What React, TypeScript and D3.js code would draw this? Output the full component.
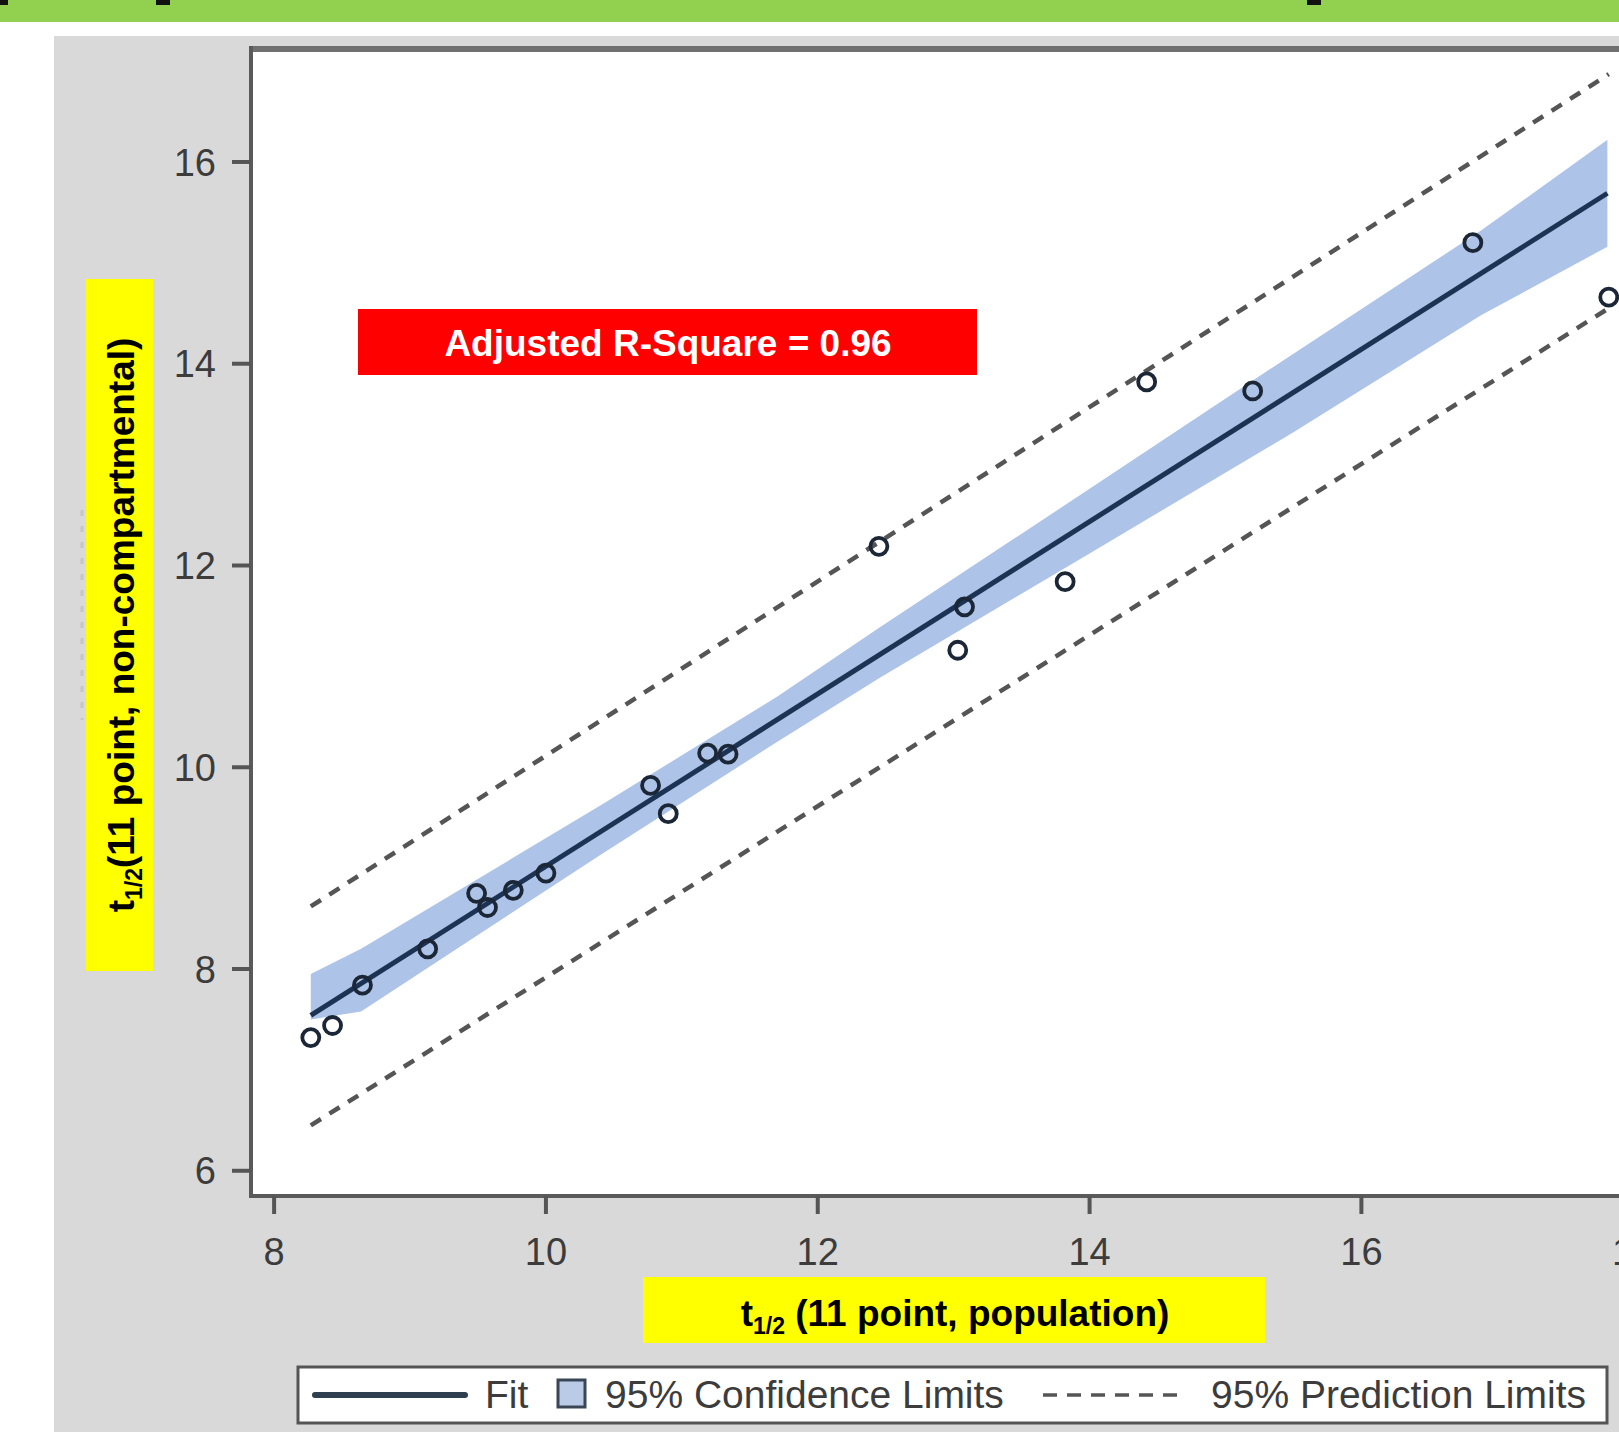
import * as d3 from "d3";

const obsX = [8.27, 8.43, 8.65, 9.13, 9.49, 9.57, 9.76, 10.0, 10.77, 10.9, 11.19, 11.34, 12.45, 13.03, 13.08, 13.82, 14.42, 15.2, 16.82, 17.82];
const obsY = [7.32, 7.44, 7.84, 8.2, 8.75, 8.61, 8.78, 8.95, 9.82, 9.54, 10.14, 10.13, 12.19, 11.16, 11.59, 11.84, 13.82, 13.73, 15.2, 14.66];

// fitted line
const fitX = [8.27, 17.81];
const fitY = [7.54, 15.69];

// 95% confidence band
const bandX = [8.27, 8.64, 10.4, 11.7, 12.46, 14.0, 15.5, 16.88, 17.81];
const bandUpper = [7.95, 8.2, 9.62, 10.7, 11.39, 12.76, 14.1, 15.32, 16.22];
const bandLower = [7.5, 7.58, 9.13, 10.25, 10.89, 12.12, 13.32, 14.48, 15.16];

// 95% prediction limits
const predX = [8.27, 17.82];
const predUpper = [8.62, 16.87];
const predLower = [6.45, 14.55];

const xTicks = [8, 10, 12, 14, 16, 18];
const yTicks = [6, 8, 10, 12, 14, 16];

const font = "'Liberation Sans', Arial, sans-serif";

export default function App() {
  const width = 1619;
  const height = 1432;
  const plotLeft = 251;
  const plotTop = 51;
  const plotBottom = 1196;

  const x = d3.scaleLinear().domain([7.83, 18.3]).range([plotLeft, 1674]);
  const y = d3.scaleLinear().domain([5.75, 17.1]).range([plotBottom, plotTop]);

  const band = d3
    .area<number>()
    .x((d) => x(bandX[d]))
    .y0((d) => y(bandLower[d]))
    .y1((d) => y(bandUpper[d]));
  const line = d3
    .line<number[]>()
    .x((d) => x(d[0]))
    .y((d) => y(d[1]));

  const fitPts = fitX.map((v, i) => [v, fitY[i]]);
  const upPts = predX.map((v, i) => [v, predUpper[i]]);
  const loPts = predX.map((v, i) => [v, predLower[i]]);

  return (
    <svg
      width={width}
      height={height}
      style={{ position: "absolute", left: 0, top: 0, background: "#fff" }}
    >
      <defs>
        <clipPath id="plotclip">
          <rect x={plotLeft + 2} y={plotTop + 2} width={width} height={plotBottom - plotTop - 4} />
        </clipPath>
      </defs>

      {/* green banner and cut-off glyphs */}
      <rect x={0} y={0} width={width} height={22} fill="#92d050" />
      <rect x={0} y={0} width={8} height={5} fill="#111" />
      <rect x={156} y={0} width={14} height={5} fill="#111" />
      <rect x={1307} y={0} width={14} height={5} fill="#111" />

      {/* gray panel */}
      <rect x={54} y={36} width={width - 54} height={height - 36} fill="#d9d9d9" />
      <rect x={plotLeft} y={plotTop} width={width} height={plotBottom - plotTop} fill="#fff" />
      <line x1={82} x2={82} y1={510} y2={720} stroke="#b8b8b8" strokeWidth={3} strokeDasharray="6 10" opacity={0.6} />

      <g clipPath="url(#plotclip)">
        <path d={band(d3.range(bandX.length)) || ""} fill="#adc3e8" />
        <path d={line(upPts) || ""} fill="none" stroke="#555" strokeWidth={4.5} strokeDasharray="12 10" />
        <path d={line(loPts) || ""} fill="none" stroke="#555" strokeWidth={4.5} strokeDasharray="12 10" />
        <path d={line(fitPts) || ""} fill="none" stroke="#1c3353" strokeWidth={5} />
        {obsX.map((v, i) => (
          <circle key={i} cx={x(v)} cy={y(obsY[i])} r={8.5} fill="none" stroke="#1b2636" strokeWidth={3.8} />
        ))}
      </g>

      {/* frame */}
      <rect x={plotLeft - 2} y={plotTop - 5} width={width} height={6} fill="#707070" />
      <rect x={plotLeft - 2} y={plotTop - 5} width={4} height={plotBottom - plotTop + 7} fill="#5a5a5a" />
      <rect x={plotLeft - 2} y={plotBottom - 2} width={width} height={4} fill="#5a5a5a" />

      {/* y axis */}
      {yTicks.map((t) => (
        <g key={t}>
          <line x1={plotLeft - 19} x2={plotLeft} y1={y(t)} y2={y(t)} stroke="#555" strokeWidth={4} />
          <text
            x={plotLeft - 35}
            y={y(t)}
            dy="0.36em"
            textAnchor="end"
            fontFamily={font}
            fontSize={38}
            fill="#3c3c3c"
          >
            {t}
          </text>
        </g>
      ))}

      {/* x axis */}
      {xTicks.map((t) => (
        <g key={t}>
          <line x1={x(t)} x2={x(t)} y1={plotBottom} y2={plotBottom + 18} stroke="#555" strokeWidth={4} />
          <text
            x={x(t)}
            y={1251}
            dy="0.36em"
            textAnchor="middle"
            fontFamily={font}
            fontSize={38}
            fill="#3c3c3c"
          >
            {t}
          </text>
        </g>
      ))}

      {/* axis titles */}
      <rect x={86} y={279} width={67} height={692} fill="#ffff00" />
      <text
        transform="translate(134,625) rotate(-90)"
        textAnchor="middle"
        fontFamily={font}
        fontWeight="bold"
        fontSize={37}
        fill="#000"
      >
        t<tspan dy={8} fontSize={23}>1/2</tspan>
        <tspan dy={-8}>(11 point, non-compartmental)</tspan>
      </text>

      <rect x={643} y={1277} width={622} height={66} fill="#ffff00" />
      <text x={955} y={1326} textAnchor="middle" fontFamily={font} fontWeight="bold" fontSize={37} fill="#000">
        t<tspan dy={8} fontSize={23}>1/2</tspan>
        <tspan dy={-8}> (11 point, population)</tspan>
      </text>

      {/* R-square annotation */}
      <rect x={358} y={309} width={619} height={66} fill="#ff0000" />
      <text x={668} y={356} textAnchor="middle" fontFamily={font} fontWeight="bold" fontSize={37} fill="#fff">
        Adjusted R-Square = 0.96
      </text>

      {/* legend */}
      <rect x={298} y={1367} width={1309} height={56} fill="#fff" stroke="#555" strokeWidth={3} />
      <line x1={315} x2={465} y1={1395} y2={1395} stroke="#2e3f50" strokeWidth={6} strokeLinecap="round" />
      <text x={485} y={1408} fontFamily={font} fontSize={39} fill="#3c3c3c">Fit</text>
      <rect x={558} y={1380} width={27} height={27} fill="#b9cbe6" stroke="#3a4656" strokeWidth={3} />
      <text x={605} y={1408} fontFamily={font} fontSize={39} fill="#3c3c3c">95% Confidence Limits</text>
      <line x1={1043} x2={1182} y1={1395} y2={1395} stroke="#555" strokeWidth={3.5} strokeDasharray="14 10" />
      <text x={1211} y={1408} fontFamily={font} fontSize={39} fill="#3c3c3c">95% Prediction Limits</text>
    </svg>
  );
}
